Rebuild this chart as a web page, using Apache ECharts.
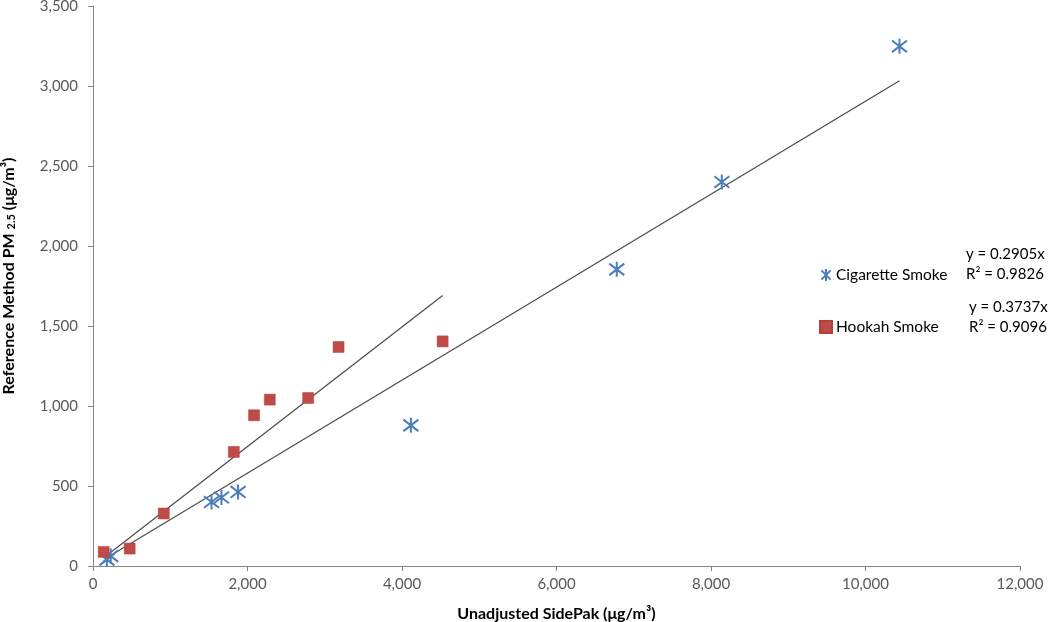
<!DOCTYPE html>
<html><head><meta charset="utf-8">
<script src="https://cdn.jsdelivr.net/npm/echarts@6/dist/echarts.min.js"></script>
<style>html,body{margin:0;padding:0;background:#fff}#c{width:1050px;height:622px}</style>
</head><body><div id="c"></div>
<script>
// Cigarette smoke: [SidePak, Reference]
const cigX = [180, 230, 1534, 1663, 1878, 4115, 6780, 8140, 10440];
const cigY = [40, 62, 400, 428, 463, 879, 1854, 2400, 3248];
// Hookah smoke
const hookX = [139, 475, 916, 1823, 2085, 2289, 2785, 3179, 4526];
const hookY = [88, 109, 328, 713, 942, 1040, 1050, 1369, 1404];
// Trendline endpoints (from displayed equations)
const cigTrendX = [180, 10440];
const cigTrendY = [52, 3033];
const hookTrendX = [139, 4526];
const hookTrendY = [52, 1691];
const xTicks = [0, 2000, 4000, 6000, 8000, 10000, 12000];
const yTicks = [0, 500, 1000, 1500, 2000, 2500, 3000, 3500];
const cigEq = ['y = 0.2905x', 'R² = 0.9826'];
const hookEq = ['y = 0.3737x', 'R² = 0.9096'];

const zip = (a, b) => a.map((v, i) => [v, b[i]]);
const FONT = 'Lato';
const fmt = v => v.toLocaleString('en-US');
const star = 'path://M0,0 L10,10 M10,0 L0,10 M5,-1.5 L5,11.5';

const chart = echarts.init(document.getElementById('c'));
chart.setOption({
  animation: false,
  textStyle: { fontFamily: FONT },
  grid: { left: 93, right: 30, top: 6, bottom: 56, containLabel: false, outerBoundsMode: 'none' },
  xAxis: {
    type: 'value', min: 0, max: 12000, interval: 2000,
    name: 'Unadjusted SidePak (μg/m³)', nameLocation: 'middle', nameGap: 40,
    nameTextStyle: { fontFamily: FONT, fontWeight: 'bold', fontSize: 16, color: '#000' },
    axisLine: { lineStyle: { color: '#868686', width: 1 } },
    axisTick: { show: true, length: 5, lineStyle: { color: '#868686' } },
    axisLabel: { color: '#595959', fontSize: 15, margin: 11, formatter: fmt },
    splitLine: { show: false }
  },
  yAxis: {
    type: 'value', min: 0, max: 3500, interval: 500,
    name: '{n|Reference Method PM }{s|2.5}{n| (μg/m³)}', nameLocation: 'middle', nameGap: 76,
    nameTextStyle: {
      padding: [0, 0, 0, 20],
      rich: {
        n: { fontFamily: FONT, fontWeight: 'bold', fontSize: 16, color: '#000' },
        s: { fontFamily: FONT, fontWeight: 'bold', fontSize: 11, color: '#000', padding: [6, 0, 0, 0] }
      }
    },
    axisLine: { show: true, lineStyle: { color: '#868686', width: 1 } },
    axisTick: { show: true, length: 5, lineStyle: { color: '#868686' } },
    axisLabel: { color: '#595959', fontSize: 15, margin: 15, formatter: fmt },
    splitLine: { show: false }
  },
  legend: {
    orient: 'vertical', left: 814, top: 262, itemGap: 36,
    itemWidth: 12, itemHeight: 12,
    data: ['Cigarette Smoke', 'Hookah Smoke'],
    textStyle: { fontFamily: FONT, fontSize: 15.5, color: '#000', padding: [0, 0, 0, -1] }
  },
  series: [
    {
      name: 'Cigarette Smoke', type: 'scatter', data: zip(cigX, cigY),
      symbol: star, symbolSize: 15,
      itemStyle: { color: 'rgba(0,0,0,0)', borderColor: '#4A7EBB', borderWidth: 2, opacity: 1 }, z: 3
    },
    {
      name: 'Hookah Smoke', type: 'scatter', data: zip(hookX, hookY),
      symbol: 'rect', symbolSize: 11,
      itemStyle: { color: '#BE4B48', borderColor: '#B0413E', borderWidth: 0.5, opacity: 1 }, z: 3
    },
    {
      name: 'cigTrend', type: 'line', data: zip(cigTrendX, cigTrendY),
      symbol: 'none', lineStyle: { color: '#4A4A4A', width: 1.2 }, z: 2, silent: true
    },
    {
      name: 'hookTrend', type: 'line', data: zip(hookTrendX, hookTrendY),
      symbol: 'none', lineStyle: { color: '#4A4A4A', width: 1.2 }, z: 2, silent: true
    }
  ],
  graphic: [
    { type: 'text', left: 966, top: 247, style: { text: cigEq[0], fontFamily: FONT, fontSize: 15, fill: '#000' } },
    { type: 'text', left: 966, top: 267, style: { text: cigEq[1], fontFamily: FONT, fontSize: 15, fill: '#000' } },
    { type: 'text', left: 969, top: 300, style: { text: hookEq[0], fontFamily: FONT, fontSize: 15, fill: '#000' } },
    { type: 'text', left: 969, top: 320, style: { text: hookEq[1], fontFamily: FONT, fontSize: 15, fill: '#000' } }
  ]
});
</script></body></html>
